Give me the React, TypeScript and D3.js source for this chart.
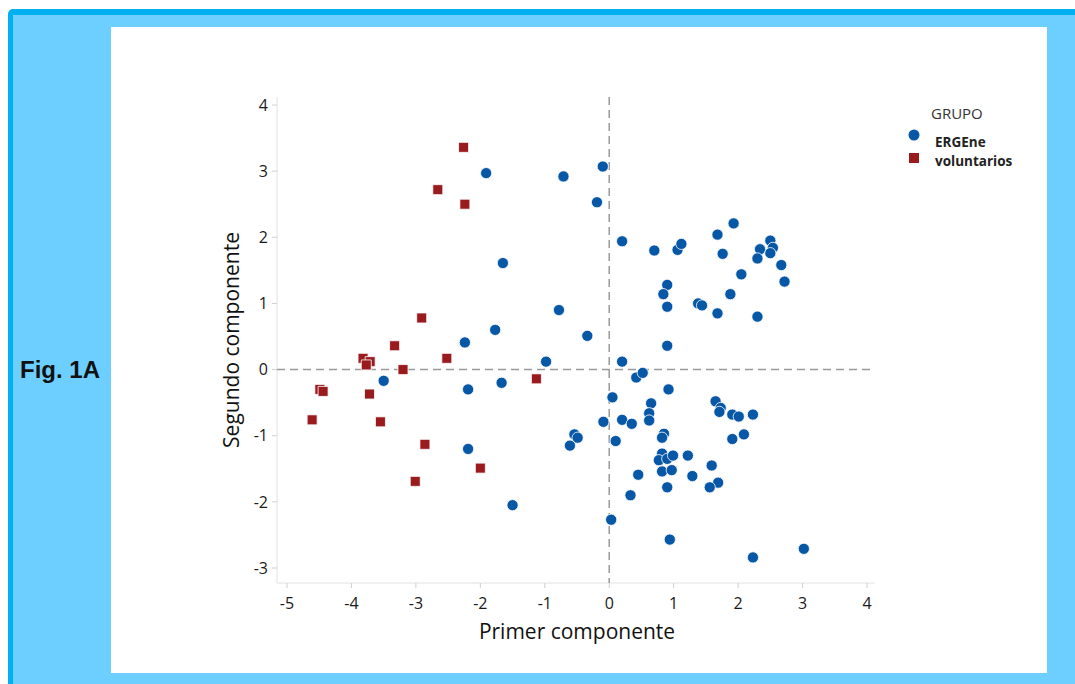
import { useEffect } from "react";
import * as d3 from "d3";

// Grupo ERGEne (primer componente, segundo componente)
const ergeneX = [
  -1.91, -0.71, -0.1, -0.19, 0.2, -1.65, -0.78, -1.77, -2.24, -0.34, -0.98, 0.2, -3.5, -2.19, -1.67, -2.19, -1.5,
  -0.54, -0.49, -0.61, 0.7, 1.06, 1.12, 1.68, 1.93, 1.76, 2.5, 2.34, 2.54, 2.5, 2.3, 2.67, 2.05, 2.72, 0.9, 0.84,
  0.9, 1.38, 1.44, 1.88, 1.68, 2.3, 0.9, 0.42, 0.52, 0.92, 0.05, 0.65, 0.62, 0.62, -0.09, 0.2, 0.35, 0.1, 0.85,
  0.82, 1.65, 1.73, 1.71, 1.91, 2.01, 2.23, 1.91, 2.09, 0.82, 0.77, 0.9, 0.99, 1.22, 0.82, 0.97, 1.29, 1.59, 1.69,
  1.56, 0.9, 0.45, 0.33, 0.03, 0.94, 2.23, 3.02,
];
const ergeneY = [
  2.97, 2.92, 3.07, 2.53, 1.94, 1.61, 0.9, 0.6, 0.41, 0.51, 0.12, 0.12, -0.17, -0.3, -0.2, -1.2, -2.05, -0.98,
  -1.03, -1.15, 1.8, 1.81, 1.9, 2.04, 2.21, 1.75, 1.95, 1.82, 1.84, 1.76, 1.68, 1.58, 1.44, 1.33, 1.28, 1.14, 0.95,
  1.0, 0.97, 1.14, 0.85, 0.8, 0.36, -0.12, -0.05, -0.3, -0.42, -0.51, -0.66, -0.77, -0.79, -0.76, -0.82, -1.08,
  -0.97, -1.03, -0.48, -0.58, -0.64, -0.68, -0.71, -0.68, -1.05, -0.98, -1.27, -1.37, -1.35, -1.3, -1.3, -1.54,
  -1.52, -1.61, -1.45, -1.71, -1.78, -1.78, -1.59, -1.9, -2.27, -2.57, -2.84, -2.71,
];

// Grupo voluntarios
const voluntX = [
  -2.26, -2.66, -2.24, -2.91, -3.33, -3.82, -3.71, -3.77, -3.2, -2.52, -1.13, -4.49, -4.44, -4.61, -3.72, -3.55,
  -2.86, -3.01, -2.0,
];
const voluntY = [
  3.36, 2.72, 2.5, 0.78, 0.36, 0.17, 0.12, 0.07, 0.0, 0.17, -0.14, -0.3, -0.33, -0.76, -0.37, -0.79, -1.13, -1.69,
  -1.49,
];

const xTicks = [-5, -4, -3, -2, -1, 0, 1, 2, 3, 4];
const yTicks = [-3, -2, -1, 0, 1, 2, 3, 4];

const groups = ["ERGEne", "voluntarios"];
const BLUE = "#0757a7";
const RED = "#9a1b1e";
const FONT = "'Open Sans', 'Noto Sans', sans-serif";

export default function App() {
  useEffect(() => {
    document.body.style.margin = "0";
  }, []);

  const W = 1075;
  const H = 684;

  const x = d3.scaleLinear().domain([-5, 4]).range([287, 867]);
  const y = d3.scaleLinear().domain([-3, 4]).range([568, 105]);

  // límites del área de trazado
  const left = 277;
  const right = 875;
  const top = 97;
  const bottom = 583;

  const sq = d3.symbol().type(d3.symbolSquare).size(100);

  return (
    <svg width={W} height={H} style={{ display: "block" }}>
      <rect x={0} y={0} width={W} height={H} fill="#ffffff" />
      {/* Marco azul */}
      <rect x={8} y={9} width={W + 20} height={H + 20} rx={5} fill="#00b0f0" />
      <rect x={13} y={15} width={W + 20} height={H + 20} fill="#6dcfff" />
      <rect x={111} y={27} width={936} height={646} fill="#ffffff" />

      <text x={20} y={378} fontFamily="Arial, 'Liberation Sans', sans-serif" fontWeight="bold" fontSize={24} fill="#111">
        Fig. 1A
      </text>

      {/* Ejes */}
      <line x1={left} x2={left} y1={top} y2={bottom} stroke="#e2e2e2" strokeWidth={1} />
      <line x1={left} x2={right} y1={bottom} y2={bottom} stroke="#e2e2e2" strokeWidth={1} />
      {y.ticks(8).filter((t) => yTicks.includes(t)).map((t) => (
        <g key={"y" + t}>
          <line x1={left - 5} x2={left} y1={y(t)} y2={y(t)} stroke="#d0d0d0" />
          <text x={268} y={y(t)} dy="0.36em" textAnchor="end" fontFamily={FONT} fontSize={16} fill="#1a1a1a">
            {t}
          </text>
        </g>
      ))}
      {x.ticks(10).filter((t) => xTicks.includes(t)).map((t) => (
        <g key={"x" + t}>
          <line x1={x(t)} x2={x(t)} y1={bottom} y2={bottom + 5} stroke="#d0d0d0" />
          <text x={x(t)} y={609} textAnchor="middle" fontFamily={FONT} fontSize={16} fill="#1a1a1a">
            {t}
          </text>
        </g>
      ))}

      {/* Líneas de referencia */}
      <line x1={x(0)} x2={x(0)} y1={top} y2={bottom} stroke="#9a9a9a" strokeWidth={1.5} strokeDasharray="8,5" />
      <line x1={left} x2={right} y1={y(0)} y2={y(0)} stroke="#9a9a9a" strokeWidth={1.5} strokeDasharray="8,5" />

      {/* Puntos */}
      {voluntX.map((v, i) => (
        <path
          key={"v" + i}
          d={sq() || ""}
          transform={`translate(${x(v)},${y(voluntY[i])})`}
          fill={RED}
          stroke="#fff"
          strokeWidth={0.8}
        />
      ))}
      {ergeneX.map((v, i) => (
        <circle key={"e" + i} cx={x(v)} cy={y(ergeneY[i])} r={5.6} fill={BLUE} stroke="#fff" strokeWidth={0.8} />
      ))}

      {/* Títulos de ejes */}
      <text x={577} y={639} textAnchor="middle" fontFamily={FONT} fontSize={21} fill="#111">
        Primer componente
      </text>
      <text
        transform="translate(239,340) rotate(-90)"
        textAnchor="middle"
        fontFamily={FONT}
        fontSize={21}
        fill="#111"
      >
        Segundo componente
      </text>

      {/* Leyenda */}
      <text x={931} y={119} fontFamily={FONT} fontSize={15} fill="#333">
        GRUPO
      </text>
      <circle cx={914} cy={135} r={5.5} fill={BLUE} />
      <text x={935} y={147} fontFamily={FONT} fontSize={13.5} fontWeight="bold" fill="#222">
        {groups[0]}
      </text>
      <path d={sq() || ""} transform="translate(914,158)" fill={RED} />
      <text x={935} y={166} fontFamily={FONT} fontSize={13.5} fontWeight="bold" fill="#222">
        {groups[1]}
      </text>
    </svg>
  );
}
